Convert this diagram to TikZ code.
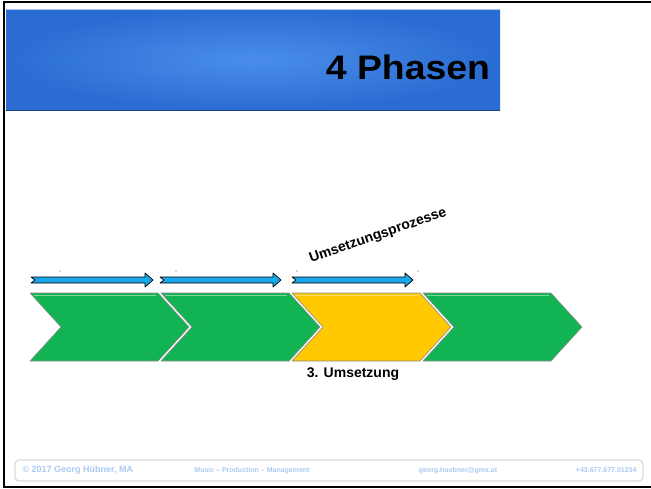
\documentclass[tikz,border=0pt]{standalone}
\usepackage{fontspec}
\setmainfont{Liberation Sans}
\definecolor{barblue}{HTML}{2A6CD2}
\definecolor{barlight}{HTML}{4A8EEA}
\definecolor{phasegreen}{HTML}{12B352}
\definecolor{phaseyellow}{HTML}{FFC800}
\definecolor{flowblue}{HTML}{1BA6EC}
\definecolor{footblue}{HTML}{A9C9F2}
\begin{document}
\begin{tikzpicture}[x=1pt, y=-1pt,
        phase/.style={fill=#1, draw=black!45, line width=0.6pt, line join=round},
        flow/.style={fill=flowblue, draw=black, line width=0.7pt, line join=round},
        foot/.style={text=footblue, font=\bfseries\fontsize{#1}{9}\selectfont}]
    \useasboundingbox (0,0) rectangle (651,488);
    % Frame
    \draw[line width=2pt] (651,1.5) -- (4,1.5) -- (4,486.5) -- (651,486.5);
    % Title bar
    \shade[inner color=barlight, outer color=barblue] (6,9) rectangle (500,110);
    \draw[white!60!barblue, line width=1pt] (6,9.5) -- (500,9.5);
    \draw[barblue!60!black, line width=1pt] (6,110) -- (500,110);
    \node[anchor=east, font=\bfseries\fontsize{34}{36}\selectfont, xscale=1.1] (title) at (494,67) {4 Phasen};
    % Phases
    \foreach \x/\c in {30/phasegreen, 161/phasegreen, 292/phaseyellow, 423/phasegreen} {
            \draw[phase=\c] (\x,293) -- ++(128,0) -- ++(31,34) -- ++(-31,34) -- ++(-128,0) -- ++(31,-34) -- cycle;
            \draw[white, opacity=0.45, line width=1.2pt] (\x+4,295.5) -- ++(122,0);
        }
    % Process arrows
    \foreach \a/\b in {31/153, 160/281, 292/413} {
            \draw[flow] (\a,277) -- (\b-8,277) -- (\b-8,273) -- (\b,280) -- (\b-8,287) -- (\b-8,283) -- (\a,283) -- (\a+4,280) -- cycle;
        }
    \foreach \x in {60, 176, 297, 418} {
            \fill[flowblue!60!black] (\x,271) circle (0.6);
        }
    \node[rotate=19, font=\bfseries\fontsize{14}{16}\selectfont] (proc) at (378,236) {Umsetzungsprozesse};
    \node[font=\bfseries\fontsize{14}{16}\selectfont] (step3) at (353,374) {3. Umsetzung};
    % Footer
    \draw[black!15, line width=1.2pt, rounded corners=4pt] (15,460) rectangle (643,481);
    \node[foot=9, anchor=west] (copy) at (19,470.5) {© 2017 Georg Hübner, MA};
    \node[foot=7] (motto) at (252,470.5) {Music – Production – Management};
    \node[foot=7] (mail) at (458,470.5) {georg.huebner@gmx.at};
    \node[foot=7, anchor=east] (phone) at (640,470.5) {+43.677.677.01234};
\end{tikzpicture}
\end{document}
